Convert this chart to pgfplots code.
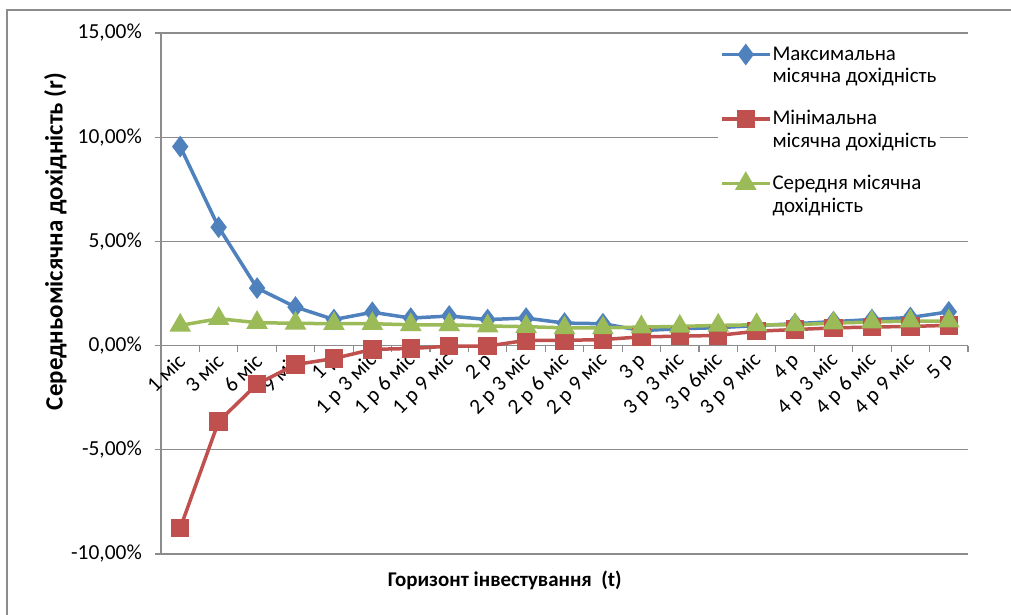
\documentclass[border=0pt]{standalone}
\usepackage{fontspec}
\setmainfont{Carlito}
\usepackage{pgfplots}
\pgfplotsset{compat=1.18}
\definecolor{cblue}{HTML}{4F81BD}
\definecolor{cred}{HTML}{C0504D}
\definecolor{cgreen}{HTML}{9BBB59}
\definecolor{cgrid}{HTML}{8C8C8C}
\begin{document}
\begin{tikzpicture}
\useasboundingbox (0,0) rectangle (1011bp,615bp);
\draw[cgrid, line width=1.2bp] (7bp,0) -- (7bp,605bp) -- (1011bp,605bp);
\begin{axis}[
  at={(161bp,61bp)}, anchor=south west,
  scale only axis, width=807bp, height=521bp,
  axis x line=middle, axis y line=left,
  axis line style={-, cgrid, line width=1.2bp},
  xmin=-0.5, xmax=20.5, ymin=-10, ymax=15,
  xtick={0,...,20},
  minor xtick={-0.5,0.5,...,20.5},
  every major x tick/.append style={draw=none},
  every minor x tick/.append style={cgrid, line width=1.2bp},
  minor tick length=6bp,
  major tick length=6bp,
  tick align=outside,
  ytick={-10,-5,0,5,10,15},
  every major y tick/.append style={cgrid, line width=1.2bp},
  yticklabels={{-10,00\%},{-5,00\%},{0,00\%},{5,00\%},{10,00\%},{15,00\%}},
  ymajorgrids, grid style={cgrid, line width=1.2bp},
  xticklabels={1 міс,3 міс,6 міс,9 міс,1 р,1 р 3 міс,1 р 6 міс,1 р 9 міс,2 р,2 р 3 міс,2 р 6 міс,2 р 9 міс,3 р,3 р 3 міс,3 р 6міс,3 р 9 міс,4 р,4 р 3 міс,4 р 6 міс,4 р 9 міс,5 р},
  xticklabel style={rotate=45, anchor=east, font=\fontsize{21.5}{23}\selectfont, inner sep=1bp, xshift=-2.1bp, yshift=-5bp},
  yticklabel style={font=\fontsize{21.5}{23}\selectfont, inner sep=1bp, xshift=-12bp},
  ylabel={\textbf{Середньомісячна дохідність (r)}},
  ylabel style={font=\fontsize{25}{28}\selectfont, at={(axis description cs:-0.131,0.60)}, anchor=center},
  xlabel={\textbf{Горизонт інвестування\ \ (t)}},
  xlabel style={font=\fontsize{21}{24}\selectfont, at={(axis description cs:0.426,-0.05)}, anchor=center},
  clip=false,
  legend style={at={(rel axis cs:0.69,0.98)}, anchor=north west, draw=none, fill=white,
    font=\fontsize{21}{23}\selectfont, row sep=24bp, inner sep=2bp,
    nodes={align=left, inner sep=1bp}},
  legend cell align=left,
  legend image code/.code={\draw[mark repeat=2,mark phase=2] plot coordinates {(0bp,11bp)(24bp,11bp)(48bp,11bp)};},
  every axis plot/.append style={line width=3.5bp},
]
\addplot[cblue, mark=diamond*, mark size=8bp, mark options={solid}] coordinates {
(0,9.55)(1,5.68)(2,2.76)(3,1.85)(4,1.25)(5,1.60)(6,1.32)(7,1.42)(8,1.25)(9,1.32)(10,1.08)
(11,1.05)(12,0.72)(13,0.81)(14,0.86)(15,0.96)(16,1.05)(17,1.15)(18,1.25)(19,1.35)(20,1.62)};
\addlegendentry{Максимальна\\місячна дохідність}
\addplot[cred, mark=square*, mark size=7.5bp] coordinates {
(0,-8.76)(1,-3.64)(2,-1.85)(3,-0.91)(4,-0.62)(5,-0.18)(6,-0.14)(7,-0.03)(8,-0.02)(9,0.25)(10,0.25)
(11,0.29)(12,0.42)(13,0.45)(14,0.49)(15,0.69)(16,0.77)(17,0.85)(18,0.89)(19,0.92)(20,0.97)};
\addlegendentry{Мінімальна\\місячна дохідність}
\addplot[cgreen, mark=triangle*, mark size=9bp] coordinates {
(0,0.97)(1,1.29)(2,1.10)(3,1.07)(4,1.05)(5,1.05)(6,1.00)(7,1.00)(8,0.94)(9,0.91)(10,0.85)
(11,0.85)(12,0.89)(13,0.92)(14,0.97)(15,1.00)(16,1.00)(17,1.08)(18,1.13)(19,1.18)(20,1.18)};
\addlegendentry{Середня місячна\\дохідність}
\end{axis}
\end{tikzpicture}
\end{document}
